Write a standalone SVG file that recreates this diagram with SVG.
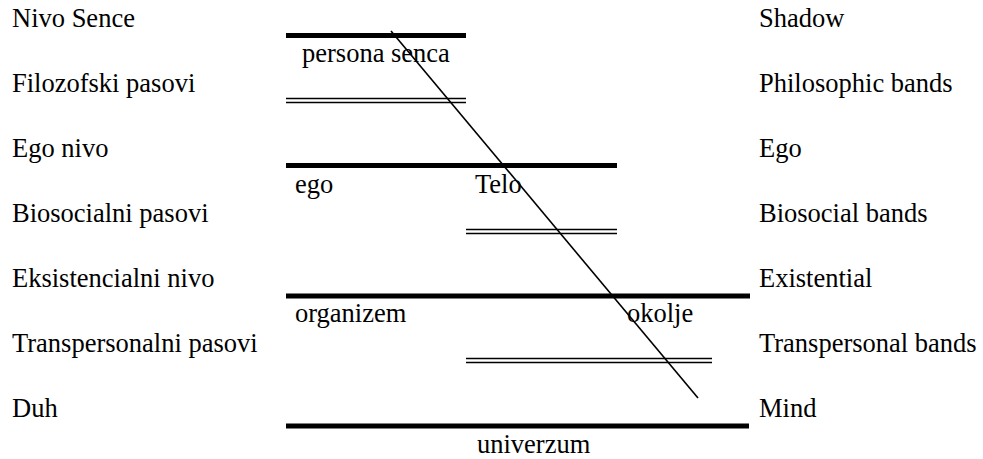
<svg xmlns="http://www.w3.org/2000/svg" width="983" height="459" viewBox="0 0 983 459">
<style>
text{font-size:26.5px;fill:#000}
.thick{stroke:#000;stroke-width:5;fill:none}
.thin{stroke:#000;stroke-width:1.7;fill:none}
.diag{stroke:#000;stroke-width:1.6;fill:none}
</style>
<rect width="983" height="459" fill="#fff"/>
<g font-family="Liberation Serif, Tinos, Times New Roman, Times, DejaVu Serif, serif">
<g id="labels-left">
<text x="12" y="27">Nivo Sence</text>
<text x="12" y="92">Filozofski pasovi</text>
<text x="12" y="157">Ego nivo</text>
<text x="12" y="222">Biosocialni pasovi</text>
<text x="12" y="287">Eksistencialni nivo</text>
<text x="12" y="352">Transpersonalni pasovi</text>
<text x="12" y="417">Duh</text>
</g>
<g id="labels-right">
<text x="759" y="27">Shadow</text>
<text x="759" y="92">Philosophic bands</text>
<text x="759" y="157">Ego</text>
<text x="759" y="222">Biosocial bands</text>
<text x="759" y="287">Existential</text>
<text x="759" y="352">Transpersonal bands</text>
<text x="759" y="417">Mind</text>
</g>
<g id="level-shadow">
<line class="thick" x1="286" y1="35.5" x2="466" y2="35.5"/>
<text x="302" y="62">persona senca</text>
</g>
<g id="band-philosophic">
<line class="thin" x1="286" y1="98.5" x2="466" y2="98.5"/>
<line class="thin" x1="286" y1="102.5" x2="466" y2="102.5"/>
</g>
<g id="level-ego">
<line class="thick" x1="286" y1="165.5" x2="617" y2="165.5"/>
<text x="295" y="193">ego</text>
<text x="475" y="193">Telo</text>
</g>
<g id="band-biosocial">
<line class="thin" x1="466" y1="229.5" x2="617" y2="229.5"/>
<line class="thin" x1="466" y1="233.5" x2="617" y2="233.5"/>
</g>
<g id="level-existential">
<line class="thick" x1="286" y1="296" x2="750" y2="296"/>
<text x="295" y="322">organizem</text>
<text x="627" y="322">okolje</text>
</g>
<g id="band-transpersonal">
<line class="thin" x1="466" y1="358.5" x2="712" y2="358.5"/>
<line class="thin" x1="466" y1="362.5" x2="712" y2="362.5"/>
</g>
<g id="level-mind">
<line class="thick" x1="286" y1="426" x2="749" y2="426"/>
<text x="477" y="453">univerzum</text>
</g>
</g>
<g id="connectors">
<line class="diag" x1="391" y1="31" x2="698" y2="398"/>
</g>
</svg>
